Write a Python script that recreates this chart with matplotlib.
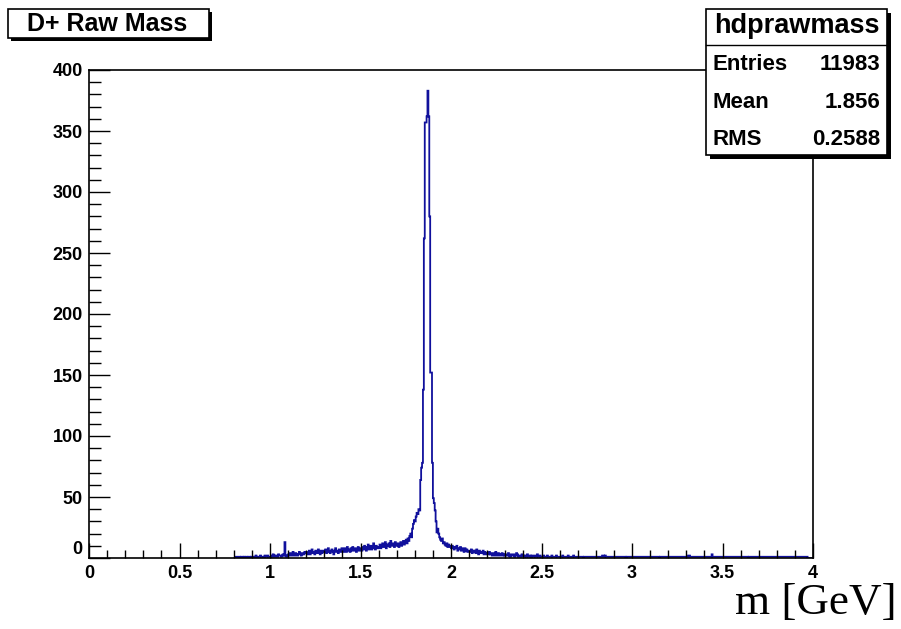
import numpy as np
import matplotlib
matplotlib.use("Agg")
import matplotlib.pyplot as plt
from matplotlib.patches import Rectangle
from matplotlib.lines import Line2D
from matplotlib.ticker import MultipleLocator, FixedLocator, FixedFormatter

# ---------------- data ----------------
bin_width = 0.005
first_edge = 0.80
counts = [
    # 0.8 - 0.9
    0,0,1,0,0,1,1,0,1,1,0,1,0,1,1,0,1,1,0,1,
    # 0.9 - 1.0
    1,0,1,1,2,1,0,1,1,2,1,1,0,1,2,1,1,2,1,1,
    # 1.0 - 1.1
    1,2,1,3,2,1,2,2,1,3,2,2,1,2,3,2,13,2,1,2,
    # 1.1 - 1.2
    3,2,4,3,2,5,3,2,4,3,2,3,5,4,2,3,4,3,5,4,
    # 1.2 - 1.3
    4,3,5,6,3,4,7,5,4,3,6,5,4,7,5,3,6,4,5,6,
    # 1.3 - 1.4
    5,7,4,6,8,5,4,6,7,5,3,6,8,5,6,4,7,6,5,8,
    # 1.4 - 1.5
    6,5,8,7,5,9,6,7,5,8,6,9,7,6,8,5,7,9,6,8,
    # 1.5 - 1.6
    8,6,9,7,10,8,6,9,11,7,8,10,7,9,12,8,7,10,9,8,
    # 1.6 - 1.7
    9,11,8,10,12,9,10,13,8,11,10,12,9,14,11,10,12,9,13,11,
    # 1.7 - 1.8
    10,12,9,11,13,10,12,14,11,13,15,12,16,14,18,20,17,24,28,31,
    # 1.8 - 1.9
    30,34,37,36,40,39,64,74,78,138,262,357,357,362,383,362,280,152,152,78,
    # 1.9 - 2.0
    49,45,39,30,21,24,20,17,15,14,16,12,13,11,10,12,9,11,10,9,
    # 2.0 - 2.1
    8,10,9,7,9,8,10,6,8,7,9,6,8,7,5,8,6,7,5,6,
    # 2.1 - 2.2
    6,5,7,4,6,5,6,4,7,5,3,6,4,5,4,6,3,5,4,3,
    # 2.2 - 2.3
    4,3,5,3,4,2,3,4,2,5,3,2,4,3,2,3,4,2,3,2,
    # 2.3 - 2.4
    3,2,2,4,2,1,3,2,2,3,1,2,4,3,1,2,2,1,3,2,
    # 2.4 - 2.5
    2,1,2,1,3,1,1,2,1,2,1,1,2,1,1,3,1,1,2,1,
    # 2.5 - 2.6
    1,1,2,1,1,1,2,1,1,1,1,2,1,1,1,1,2,1,1,1,
    # 2.6 - 2.7
    1,1,1,2,1,1,1,1,1,2,1,1,1,1,1,2,1,1,1,1,
    # 2.7 - 2.8
    1,1,1,1,1,1,0,1,1,1,1,1,1,1,1,1,1,1,1,1,
    # 2.8 - 2.9
    1,1,1,1,1,1,1,2,2,1,2,1,1,1,1,1,1,1,1,1,
    # 2.9 - 3.0
    1,1,1,1,1,1,1,1,1,1,1,1,1,0,1,1,1,1,1,1,
    # 3.0 - 3.1
    1,1,1,1,1,1,1,1,1,1,1,1,1,1,1,1,1,1,1,1,
    # 3.1 - 3.2
    1,1,1,1,1,1,1,1,1,1,0,1,1,1,1,1,1,1,1,1,
    # 3.2 - 3.3
    1,1,1,1,1,1,1,1,1,1,1,1,1,1,1,1,1,1,1,1,
    # 3.3 - 3.4
    1,1,2,2,1,1,1,1,1,1,1,1,1,1,1,1,1,1,1,1,
    # 3.4 - 3.5
    1,1,1,1,1,1,1,1,3,1,1,1,1,1,1,1,1,1,1,1,
    # 3.5 - 3.6
    1,1,1,1,1,1,1,1,1,1,1,1,1,1,1,1,1,1,1,1,
    # 3.6 - 3.7
    1,1,1,1,1,1,1,1,0,1,1,1,1,1,1,1,1,1,1,1,
    # 3.7 - 3.8
    1,1,1,1,1,1,1,1,1,1,1,1,1,1,1,1,1,1,1,1,
    # 3.8 - 3.9
    1,1,1,1,1,1,1,1,1,1,1,1,1,1,1,1,1,1,1,1,
    # 3.9 - 4.0
    1,1,1,1,1,1,1,1,1,1,1,1,1,1,0,0,0,0,0,0,
]
x_major_ticks = [0, 0.5, 1, 1.5, 2, 2.5, 3, 3.5, 4]
x_tick_labels = ["0", "0.5", "1", "1.5", "2", "2.5", "3", "3.5", "4"]
y_major_ticks = [0, 50, 100, 150, 200, 250, 300, 350, 400]
y_tick_labels = ["0", "50", "100", "150", "200", "250", "300", "350", "400"]
title_text = "D+ Raw Mass"
stats_name = "hdprawmass"
stats_labels = ["Entries", "Mean", "RMS"]
stats_values = ["11983", "1.856", "0.2588"]
x_label = "m [GeV]"

# ---------------- figure ----------------
W, H = 901, 629
fig = plt.figure(figsize=(W / 100, H / 100), dpi=100)
fig.patch.set_facecolor("white")

def fx(px):
    return px / W

def fy(py):
    return 1 - py / H

ax_left, ax_right, ax_top, ax_bot = 89, 813, 70, 558
ax = fig.add_axes([fx(ax_left), fy(ax_bot), (ax_right - ax_left) / W, (ax_bot - ax_top) / H])

edges = first_edge + bin_width * np.arange(len(counts) + 1)
ax.stairs(counts, edges, color="#10109c", lw=1.3, baseline=0)

ax.set_xlim(0, 4)
ax.set_ylim(0, 400)

font = "Liberation Sans"
ax.xaxis.set_major_locator(FixedLocator(x_major_ticks))
ax.xaxis.set_major_formatter(FixedFormatter(x_tick_labels))
ax.xaxis.set_minor_locator(MultipleLocator(0.1))
ax.yaxis.set_major_locator(FixedLocator(y_major_ticks))
ax.yaxis.set_major_formatter(FixedFormatter([""] + y_tick_labels[1:]))
ax.yaxis.set_minor_locator(MultipleLocator(10))

ax.tick_params(axis="x", which="major", direction="in", length=10.5, width=1.0, pad=5,
               top=False, labelsize=13, color="black")
ax.tick_params(axis="x", which="minor", direction="in", length=6, width=1.0, top=False)
ax.tick_params(axis="y", which="major", direction="in", length=15, width=1.0, pad=4.5,
               right=False, labelsize=13, color="black")
ax.tick_params(axis="y", which="minor", direction="in", length=8.5, width=1.0, right=False)
for lab in ax.get_xticklabels() + ax.get_yticklabels():
    lab.set_fontfamily(font)
    lab.set_fontweight("bold")

# y "0" label shifted up like ROOT
ax.annotate(y_tick_labels[0], xy=(0, 0), xycoords="axes fraction",
            xytext=(-4.5, 6), textcoords="offset points",
            ha="right", va="center", fontsize=13, fontweight="bold", fontfamily=font)

for s in ax.spines.values():
    s.set_linewidth(1.2)
    s.set_color("black")

# ---------------- title box ----------------
def box(x0, y0, x1, y1, shadow, lw=1.2):
    fig.patches.append(Rectangle((fx(x0 + shadow), fy(y1 + shadow)), fx(x1 - x0), (y1 - y0) / H,
                                 transform=fig.transFigure, facecolor="black",
                                 edgecolor="black", lw=0, zorder=10))
    fig.patches.append(Rectangle((fx(x0), fy(y1)), fx(x1 - x0), (y1 - y0) / H,
                                 transform=fig.transFigure, facecolor="white",
                                 edgecolor="black", lw=lw, zorder=11))

box(8, 9, 209, 38, 3)
fig.text(fx(107), fy(24), title_text, ha="center", va="center", fontsize=18,
         fontweight="bold", fontfamily=font, zorder=12)

# ---------------- stats box ----------------
box(706, 9, 887, 155, 4)
fig.lines.append(Line2D([fx(706), fx(887)], [fy(45), fy(45)], transform=fig.transFigure,
                        color="black", lw=1.0, zorder=12))
fig.text(fx(796.5), fy(26), stats_name, ha="center", va="center", fontsize=19.5,
         fontweight="bold", fontfamily=font, zorder=12)
row_y = [64.5, 102.5, 139.5]
for lab, val, ry in zip(stats_labels, stats_values, row_y):
    fig.text(fx(713), fy(ry), lab, ha="left", va="center", fontsize=16,
             fontweight="bold", fontfamily=font, zorder=12)
    fig.text(fx(880), fy(ry), val, ha="right", va="center", fontsize=16,
             fontweight="bold", fontfamily=font, zorder=12)

# ---------------- x label ----------------
fig.text(fx(897), fy(614), x_label, ha="right", va="baseline", fontsize=32.5,
         fontfamily="Liberation Serif")

fig.savefig("out.png", dpi=100, facecolor="white")
